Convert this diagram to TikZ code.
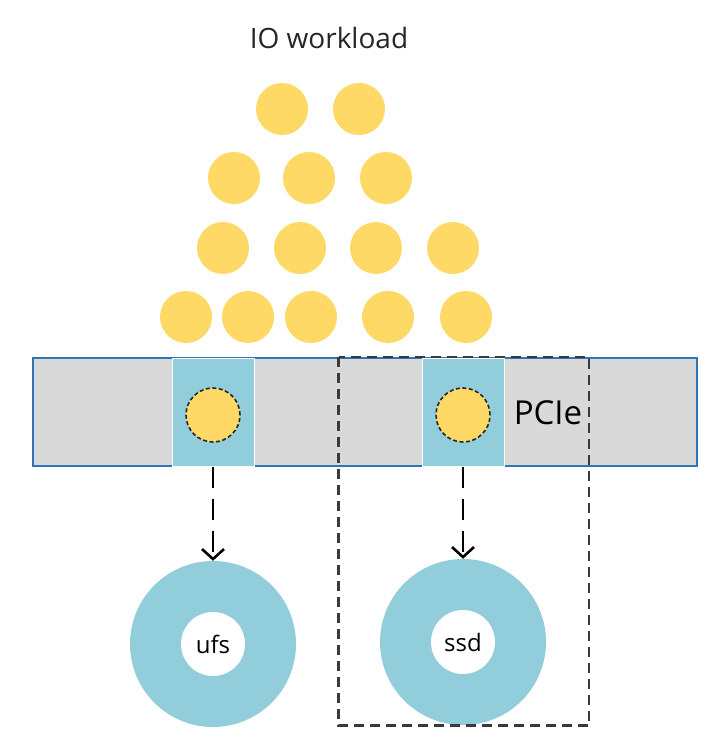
\documentclass[tikz,border=0pt]{standalone}
\usepackage{fontspec}
\setmainfont{Open Sans}
\usetikzlibrary{arrows.meta}
\definecolor{ioyellow}{HTML}{FED966}
\definecolor{slotblue}{HTML}{92CDDC}
\definecolor{bargrey}{HTML}{D9D9D9}
\definecolor{barline}{HTML}{2E75B6}
\definecolor{boxdash}{HTML}{3A3A3A}
\tikzset{
  io/.style={circle, fill=ioyellow, minimum size=52pt, inner sep=0pt},
  slotio/.style={circle, fill=ioyellow, draw=black!85, line width=1.6pt, dash pattern=on 4pt off 2.5pt, minimum size=54pt, inner sep=0pt},
  slot/.style={rectangle, fill=slotblue, draw=white, line width=1pt, minimum width=82pt, minimum height=108pt, inner sep=0pt},
  bar/.style={rectangle, fill=bargrey, draw=barline, line width=1.4pt, minimum width=664pt, minimum height=108pt, inner sep=0pt},
  disk/.style={circle, fill=slotblue, minimum size=166pt, inner sep=0pt},
  hole/.style={circle, fill=white, minimum size=64pt, inner sep=0pt, font=\fontsize{24}{28}\selectfont},
  flow/.style={line width=2.8pt, dash pattern=on 21pt off 11pt, -{Straight Barb[length=10pt,width=22pt,line width=2.6pt]}},
  group/.style={draw=boxdash, line width=2.2pt, dash pattern=on 10pt off 6pt},
}
\begin{document}
\begin{tikzpicture}[x=1pt,y=-1pt]
\useasboundingbox (0,0) rectangle (720,741);
\fill[white] (0,0) rectangle (720,741);
\node[font=\fontsize{28}{32}\selectfont, text=black!85] (title) at (329,38) {IO workload};
% workload circles
\node[io] (a1) at (282,109) {};
\node[io] (a2) at (359,109) {};
\node[io] (b1) at (234,178) {};
\node[io] (b2) at (309,178) {};
\node[io] (b3) at (386,178) {};
\node[io] (c1) at (223,248) {};
\node[io] (c2) at (300,248) {};
\node[io] (c3) at (376,248) {};
\node[io] (c4) at (453,248) {};
\node[io] (d1) at (186,317) {};
\node[io] (d2) at (248,317) {};
\node[io] (d3) at (311,317) {};
\node[io] (d4) at (388,317) {};
\node[io] (d5) at (466,317) {};
% PCIe bar
\node[bar] (pcie) at (365,412) {};
\node[slot] (s1) at (213,412) {};
\node[slot] (s2) at (463,412) {};
\node[slotio] (q1) at (213,415) {};
\node[slotio] (q2) at (463,415) {};
\node[font=\fontsize{33}{38}\selectfont] (pcielabel) at (548,413) {PCIe};
% disks
\node[disk] (ufs) at (213,644) {};
\node[hole] (ufsin) at (213,644) {ufs};
\node[disk] (ssd) at (463,642) {};
\node[hole] (ssdin) at (463,642) {ssd};
% group box
\coordinate (g1) at (338.5,357);
\coordinate (g2) at (589,725.5);
\draw[group] (g1) rectangle (g2);
% arrows
\draw[flow] (s1.south) -- (ufs.north);
\draw[flow] (s2.south) -- (ssd.north);
\end{tikzpicture}
\end{document}
